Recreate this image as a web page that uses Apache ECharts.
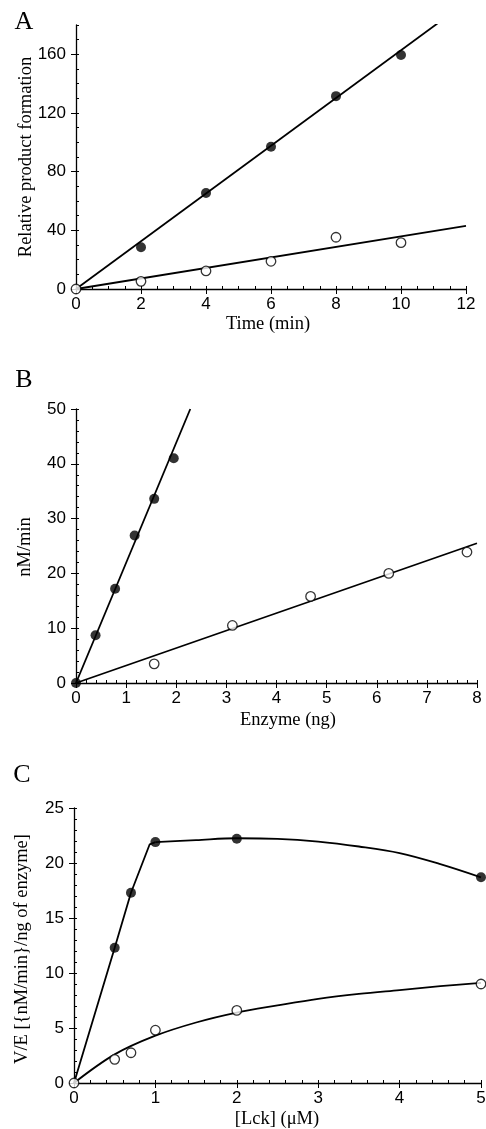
<!DOCTYPE html>
<html><head><meta charset="utf-8">
<script src="https://cdn.jsdelivr.net/npm/echarts@6/dist/echarts.min.js"></script>
<style>html,body{margin:0;padding:0;background:#fff}#c{width:486px;height:1129px}</style>
</head><body><div id="c"></div>
<script>
// Panel A: Time (min) vs relative product formation
const aTimeFilled = [2, 4, 6, 8, 10];
const aFilled = [28.5, 65.5, 97, 131.5, 159.5];
const aTimeOpen = [0, 2, 4, 6, 8, 10];
const aOpen = [0, 5.2, 12.3, 18.9, 35.3, 31.6];
const aFitFilledX = [0, 11.12];
const aFitFilledY = [0, 181];
const aFitOpenX = [0, 12];
const aFitOpenY = [0, 43];

// Panel B: Enzyme (ng) vs nM/min
const bEnzFilled = [0, 0.39, 0.78, 1.17, 1.56, 1.95];
const bFilled = [0, 8.7, 17.2, 26.9, 33.6, 41.0];
const bEnzOpen = [1.56, 3.12, 4.68, 6.24, 7.8];
const bOpen = [3.5, 10.5, 15.8, 20.0, 23.9];
const bFitFilledX = [0, 2.28];
const bFitFilledY = [0, 50];
const bFitOpenX = [0, 8];
const bFitOpenY = [0, 25.5];

// Panel C: [Lck] (uM) vs V/E
const cLckFilled = [0.5, 0.7, 1, 2, 5];
const cFilled = [12.3, 17.3, 21.9, 22.2, 18.7];
const cLckOpen = [0, 0.5, 0.7, 1, 2, 5];
const cOpen = [0, 2.15, 2.75, 4.8, 6.6, 9.0];
const cFitFilledRiseX = [0, 0.5, 0.7, 0.93, 1.0];
const cFitFilledRiseY = [0, 12.3, 17.3, 21.7, 21.9];
const cFitFilledTailX = [1.0, 1.5, 2, 2.5, 3, 3.5, 4, 4.5, 5];
const cFitFilledTailY = [21.9, 22.08, 22.25, 22.2, 21.95, 21.5, 20.9, 19.9, 18.7];
const cFitOpenX = [0, 0.5, 1, 1.5, 2, 2.5, 3, 3.5, 4, 4.5, 5];
const cFitOpenY = [0, 2.6, 4.3, 5.5, 6.4, 7.05, 7.65, 8.1, 8.45, 8.8, 9.1];

// Tick settings
const aX = {min: 0, max: 12, interval: 2, minor: 0.5};
const aY = {min: 0, max: 180, interval: 40, minor: 10};
const bX = {min: 0, max: 8, interval: 1, minor: 0.2};
const bY = {min: 0, max: 50, interval: 10, minor: 2};
const cX = {min: 0, max: 5, interval: 1, minor: 0.2};
const cY = {min: 0, max: 25, interval: 5, minor: 1};

const zip = (xs, ys) => xs.map((x, i) => [x, ys[i]]);

const grids = [
  {left: 76, top: 25, width: 390, height: 264},
  {left: 76, top: 409, width: 401, height: 274},
  {left: 74, top: 808, width: 407, height: 275}
];

const labelStyle = {color: '#000', fontFamily: 'Liberation Sans', fontSize: 17};

const xAxes = [], yAxes = [];
function addAxes(g, xs, ys, hideMaxY) {
  xAxes.push({
    gridIndex: g, type: 'value', position: 'bottom', min: xs.min, max: xs.max, interval: xs.interval,
    axisLine: {show: true, onZero: false, lineStyle: {color: '#000', width: 1.3}},
    axisTick: {show: true, length: 5, lineStyle: {color: '#000', width: 1}},
    axisLabel: Object.assign({margin: 7}, labelStyle),
    splitLine: {show: false}
  });
  xAxes.push({
    gridIndex: g, type: 'value', position: 'bottom', min: xs.min, max: xs.max, interval: xs.minor,
    axisLine: {show: false}, axisTick: {show: true, inside: true, length: 3, lineStyle: {color: '#000', width: 1}},
    axisLabel: {show: false}, splitLine: {show: false}
  });
  yAxes.push({
    gridIndex: g, type: 'value', position: 'left', min: ys.min, max: ys.max, interval: ys.interval,
    axisLine: {show: true, onZero: false, lineStyle: {color: '#000', width: 1.3}},
    axisTick: {show: true, length: 5, lineStyle: {color: '#000', width: 1}},
    axisLabel: Object.assign({margin: 10, showMaxLabel: !hideMaxY}, labelStyle),
    splitLine: {show: false}
  });
  yAxes.push({
    gridIndex: g, type: 'value', position: 'left', min: ys.min, max: ys.max, interval: ys.minor,
    axisLine: {show: false}, axisTick: {show: true, inside: true, length: 3, lineStyle: {color: '#000', width: 1}},
    axisLabel: {show: false}, splitLine: {show: false}
  });
}
addAxes(0, aX, aY, true);
addAxes(1, bX, bY, false);
addAxes(2, cX, cY, false);

function fit(g, xs, ys, smooth) {
  return {type: 'line', xAxisIndex: 2 * g, yAxisIndex: 2 * g, data: zip(xs, ys), showSymbol: false,
    smooth: smooth || false, silent: true, z: 2,
    lineStyle: {color: '#000', width: 1.8}};
}
function pts(g, xs, ys, filled) {
  return {type: 'scatter', xAxisIndex: 2 * g, yAxisIndex: 2 * g, data: zip(xs, ys), symbol: 'circle',
    symbolSize: filled ? 10 : 9.5, z: 5,
    itemStyle: filled ? {color: '#000'} : {color: '#fff', borderColor: '#000', borderWidth: 1.3}};
}

const series = [
  fit(0, aFitFilledX, aFitFilledY), fit(0, aFitOpenX, aFitOpenY),
  pts(0, aTimeFilled, aFilled, true), pts(0, aTimeOpen, aOpen, false),
  fit(1, bFitFilledX, bFitFilledY), fit(1, bFitOpenX, bFitOpenY),
  pts(1, bEnzOpen, bOpen, false), pts(1, bEnzFilled, bFilled, true),
  fit(2, cFitFilledRiseX, cFitFilledRiseY), fit(2, cFitFilledTailX, cFitFilledTailY, 0.35),
  fit(2, cFitOpenX, cFitOpenY, 0.35),
  pts(2, cLckFilled, cFilled, true), pts(2, cLckOpen, cOpen, false)
];

const serif = 'Liberation Serif';
function txt(text, x, y, size, rot) {
  return {type: 'text', x: x, y: y, rotation: rot || 0,
    style: {text: text, fill: '#000', font: size + 'px "' + serif + '"', textAlign: 'center', textVerticalAlign: 'middle'}};
}

const graphic = [
  txt('A', 24, 22, 26), txt('B', 24, 380, 26), txt('C', 22, 775, 26),
  txt('Time (min)', 268, 324, 18.5), txt('Enzyme (ng)', 288, 720, 18.5), txt('[Lck] (μM)', 277, 1119, 18.5),
  txt('Relative product formation', 26, 157, 18.5, Math.PI / 2),
  txt('nM/min', 25, 547, 18.5, Math.PI / 2),
  txt('V/E [{nM/min}/ng of enzyme]', 22, 949, 18.5, Math.PI / 2)
];

const chart = echarts.init(document.getElementById('c'), null, {renderer: 'canvas'});
chart.setOption({
  animation: false, backgroundColor: '#fff',
  grid: grids.map(g => Object.assign({outerBoundsMode: 'none', containLabel: false}, g)),
  xAxis: xAxes, yAxis: yAxes, series: series, graphic: graphic
});
</script></body></html>
